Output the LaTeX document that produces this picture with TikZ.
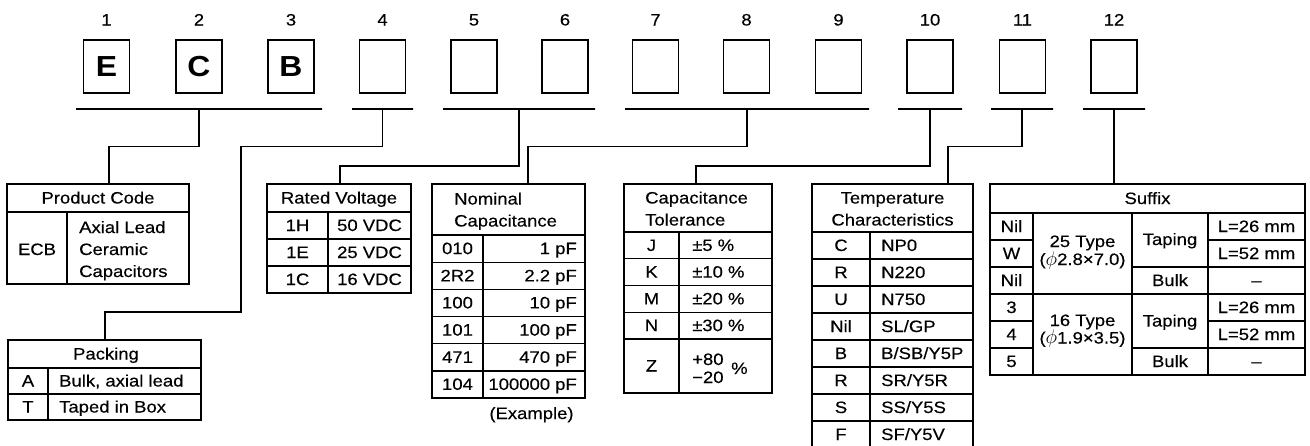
\documentclass[tikz,border=0pt]{standalone}
\usepackage{fontspec}
\setmainfont{Liberation Sans}[FakeStretch=1.12]
\newfontfamily\tabfont{Liberation Sans}[FakeStretch=1.12, FakeBold=0.35]
\newfontfamily\letterfont{Liberation Sans Bold}[FakeStretch=1.1]
\tikzset{
  digit/.style={draw, line width=1.6pt, minimum width=46pt, minimum height=53pt, inner sep=0pt, outer sep=0pt, font=\fontsize{29}{29}\letterfont},
  num/.style={anchor=base, inner sep=0pt, font=\fontsize{16.5}{18}\tabfont},
  bar/.style={draw, line width=1.2pt, inner sep=0pt, outer sep=0pt, minimum height=0pt, minimum width=#1},
  tbl/.style={draw, line width=1.8pt, anchor=north west, inner sep=0pt, outer sep=0pt},
  grid/.style={line width=1.4pt},
  conn/.style={line width=1.5pt},
  txt/.style={anchor=base, inner sep=0pt, font=\fontsize{16.5}{21.5}\tabfont},
  txtl/.style={txt, anchor=base west},
  txtr/.style={txt, anchor=base east}
}
\newcommand{\phisym}{\scalebox{1.15}{$\phi$}}
\begin{document}
\begin{tikzpicture}[x=1pt, y=-1pt]
\useasboundingbox (0,0) rectangle (1310,445);
\clip (0,0) rectangle (1310,445);

% ---- digit positions
\foreach \i/\x/\l in {1/106.5/E, 2/199/C, 3/291/B, 4/382.5/{}, 5/474/{}, 6/565/{}, 7/655.5/{}, 8/746.5/{}, 9/838.5/{}, 10/930/{}, 11/1022.5/{}, 12/1114/{}}{
  \node[num] (n\i) at (\x,25.5) {\i};
  \node[digit] (d\i) at (\x,66.5) {\l};
}

% ---- grouping bars
\node[bar=246pt] (u1) at (199,109) {};
\node[bar=61pt] (u2) at (382.5,109) {};
\node[bar=152pt] (u3) at (519,109) {};
\node[bar=244pt] (u4) at (747,109) {};
\node[bar=64pt] (u5) at (930,109) {};
\node[bar=62pt] (u6) at (1022,109) {};
\node[bar=62pt] (u7) at (1114,109) {};

% ---- Product Code
\node[tbl, minimum width=182pt, minimum height=100pt] (pc) at (7,184) {};
\draw[grid] (7,212) -- (189,212) (67,212) -- (67,284);
\node[txt] (pch) at (98,203.5) {Product Code};
\node[txt] (pcc) at (37,255) {ECB};
\node[txtl] (pc1) at (79,233) {Axial Lead};
\node[txtl] (pc2) at (79,255) {Ceramic};
\node[txtl] (pc3) at (79,277) {Capacitors};

% ---- Packing
\node[tbl, minimum width=193pt, minimum height=80pt] (pk) at (8,340) {};
\draw[grid] (8,368) -- (201,368) (8,394) -- (201,394) (48,368) -- (48,420);
\node[txt] (pkh) at (106,359.5) {Packing};
\node[txt] (pka) at (28,386.5) {A};
\node[txtl] (pkav) at (59,386.5) {Bulk, axial lead};
\node[txt] (pkt) at (28,412.5) {T};
\node[txtl] (pktv) at (59,412.5) {Taped in Box};

% ---- Rated Voltage
\node[tbl, minimum width=144pt, minimum height=109pt] (rv) at (267,184) {};
\draw[grid] (267,212) -- (411,212) (267,239) -- (411,239) (267,266) -- (411,266) (328,212) -- (328,293);
\node[txt] (rvh) at (339,203.5) {Rated Voltage};
\foreach \k/\c/\v/\y in {1/1H/50/231, 2/1E/25/258, 3/1C/16/285}{
  \node[txt] (rvc\k) at (297.5,\y) {\c};
  \node[txt] (rvv\k) at (369.5,\y) {\v\ VDC};
}

% ---- Nominal Capacitance
\node[tbl, minimum width=153pt, minimum height=214pt] (nc) at (432,184) {};
\draw[grid] (432,235) -- (585,235) (432,262.2) -- (585,262.2) (432,289.3) -- (585,289.3)
  (432,316.5) -- (585,316.5) (432,343.7) -- (585,343.7) (432,370.8) -- (585,370.8) (483,235) -- (483,398);
\node[txtl] (nch1) at (454,204.5) {Nominal};
\node[txtl] (nch2) at (454,226.5) {Capacitance};
\foreach \k/\c/\v/\y in {1/010/1/254.1, 2/2R2/2.2/281.3, 3/100/10/308.4, 4/101/100/335.6, 5/471/470/362.8, 6/104/100000/389.9}{
  \node[txt] (ncc\k) at (457.5,\y) {\c};
  \node[txtr] (ncv\k) at (577,\y) {\v\ pF};
}
\node[txt] (ncex) at (531.5,419) {(Example)};

% ---- Capacitance Tolerance
\node[tbl, minimum width=148pt, minimum height=209pt] (ct) at (624,184) {};
\draw[grid] (624,232) -- (772,232) (624,258.75) -- (772,258.75) (624,285.5) -- (772,285.5)
  (624,312.25) -- (772,312.25) (624,339) -- (772,339) (679,232) -- (679,393);
\node[txtl] (cth1) at (645,203.5) {Capacitance};
\node[txtl] (cth2) at (645,225.5) {Tolerance};
\foreach \k/\c/\v/\y in {1/J/5/250.9, 2/K/10/277.6, 3/M/20/304.4, 4/N/30/331.1}{
  \node[txt] (ctc\k) at (651.5,\y) {\c};
  \node[txtl] (ctv\k) at (692,\y) {±\v\ \%};
}
\node[txt] (ctz) at (651.5,371.5) {Z};
\node[txtl] (ctzp) at (692,365) {+80};
\node[txtl] (ctzm) at (692,383) {−20};
\node[txtl] (ctzc) at (731,374) {\%};

% ---- Temperature Characteristics
\node[tbl, minimum width=161pt, minimum height=264pt] (tc) at (812,184) {};
\draw[grid] (812,232) -- (973,232) (870,232) -- (870,448);
\foreach \y in {259,286,313,340,367,394,421}{
  \draw[grid] (812,\y) -- (973,\y);
}
\node[txt] (tch1) at (892.5,203.5) {Temperature};
\node[txt] (tch2) at (892.5,225.5) {Characteristics};
\foreach \k/\c/\v/\y in {1/C/NP0/251, 2/R/N220/278, 3/U/N750/305, 4/Nil/SL\slash GP/332, 5/B/B\slash SB\slash Y5P/359, 6/R/SR\slash Y5R/386, 7/S/SS\slash Y5S/413, 8/F/SF\slash Y5V/440}{
  \node[txt] (tcc\k) at (841,\y) {\c};
  \node[txtl] (tcv\k) at (881,\y) {\v};
}

% ---- Suffix
\node[tbl, minimum width=315pt, minimum height=191pt] (sf) at (990,184) {};
\draw[grid] (990,213) -- (1305,213)
  (1033,213) -- (1033,375) (1132,213) -- (1132,375) (1208,213) -- (1208,375)
  (990,240) -- (1033,240) (1208,240) -- (1305,240)
  (990,267) -- (1033,267) (1132,267) -- (1305,267)
  (990,294) -- (1305,294)
  (990,321) -- (1033,321) (1208,321) -- (1305,321)
  (990,348) -- (1033,348) (1132,348) -- (1305,348);
\node[txt] (sfh) at (1147.5,204) {Suffix};
\foreach \k/\c/\v/\y in {1/Nil/L=26 mm/232, 2/W/L=52 mm/259, 3/Nil/–/286, 4/3/L=26 mm/313, 5/4/L=52 mm/340, 6/5/–/367}{
  \node[txt] (sfc\k) at (1011.5,\y) {\c};
  \node[txt] (sfl\k) at (1256.5,\y) {\v};
}
\node[txt] (sft1) at (1082.5,247) {25 Type};
\node[txt] (sfd1) at (1082.5,265) {(\phisym2.8×7.0)};
\node[txt] (sft2) at (1082.5,326) {16 Type};
\node[txt] (sfd2) at (1082.5,343.5) {(\phisym1.9×3.5)};
\node[txt] (sfp1) at (1170,245) {Taping};
\node[txt] (sfb1) at (1170,286) {Bulk};
\node[txt] (sfp2) at (1170,326.5) {Taping};
\node[txt] (sfb2) at (1170,367) {Bulk};

% ---- connectors
\draw[conn] (u1.center) |- (109,146.5) -- (109,0 |- pc.north);
\draw[conn] (u2.center) |- (241,146.5) |- (105,312) -- (105,0 |- pk.north);
\draw[conn] (u3.center) |- (340,166) -- (340,0 |- rv.north);
\draw[conn] (u4.center) |- (528,146.5) -- (528,0 |- nc.north);
\draw[conn] (u5.center) |- (696,166) -- (696,0 |- ct.north);
\draw[conn] (u6.center) |- (948,146.5) -- (948,0 |- tc.north);
\draw[conn] (u7.center) -- (u7.center |- sf.north);
\end{tikzpicture}
\end{document}
